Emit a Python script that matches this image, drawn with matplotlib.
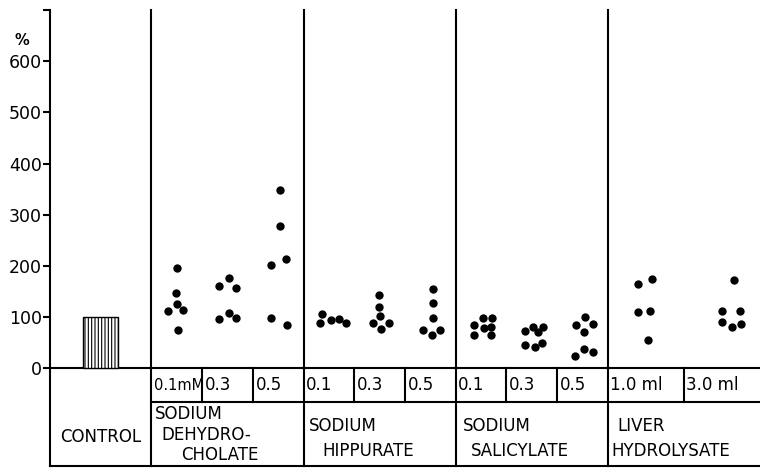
import numpy as np
import matplotlib
matplotlib.use('Agg')
import matplotlib.pyplot as plt

plt.rcParams['hatch.linewidth'] = 0.8

# values in % of control
control_value = 100

dehydro_01 = [195, 147, 125, 112, 114, 74]
dehydro_03 = [177, 160, 156, 96, 107, 99]
dehydro_05 = [349, 277, 214, 202, 99, 85]
hippur_01 = [106, 88, 94, 97, 88]
hippur_03 = [144, 119, 103, 88, 88, 77]
hippur_05 = [155, 127, 98, 74, 75, 64]
salic_01 = [98, 98, 84, 79, 81, 64, 64]
salic_03 = [81, 81, 72, 70, 45, 42, 49]
salic_05 = [101, 85, 87, 70, 38, 31, 23]
liver_10 = [164, 175, 110, 111, 56]
liver_30 = [172, 111, 112, 90, 81, 86]

# horizontal scatter of dots inside their column (column widths)
dx_dehydro_01 = [0.01, -0.02, 0.0, -0.165, 0.125, 0.02]
dx_dehydro_03 = [0.03, -0.16, 0.165, -0.16, 0.02, 0.175]
dx_dehydro_05 = [0.03, 0.04, 0.16, -0.15, -0.14, 0.17]
dx_hippur_01 = [-0.13, -0.18, 0.04, 0.2, 0.34]
dx_hippur_03 = [-0.01, -0.01, 0.01, -0.14, 0.185, 0.03]
dx_hippur_05 = [0.05, 0.045, 0.045, -0.145, 0.19, 0.04]
dx_salic_01 = [0.04, 0.21, -0.14, 0.06, 0.2, -0.13, 0.19]
dx_salic_03 = [0.03, 0.22, -0.13, 0.13, -0.13, 0.07, 0.2]
dx_salic_05 = [0.045, -0.12, 0.2, 0.03, 0.03, 0.2, -0.14]
dx_liver_10 = [-0.165, 0.12, -0.16, 0.09, 0.05]
dx_liver_30 = [0.23, 0.005, 0.36, 0.005, 0.2, 0.38]

dose_labels = ['0.1mM', '0.3', '0.5', '0.1', '0.3', '0.5',
               '0.1', '0.3', '0.5', '1.0 ml', '3.0 ml']
group_names = [['SODIUM', 'DEHYDRO-', 'CHOLATE'],
               ['SODIUM', 'HIPPURATE'],
               ['SODIUM', 'SALICYLATE'],
               ['LIVER', 'HYDROLYSATE']]
# indent of each line of the group names
name_indent = [[0.06, 0.2, 0.58], [0.11, 0.38], [0.14, 0.3], [0.18, 0.06]]
yticks = [0, 100, 200, 300, 400, 500, 600]

columns = [(dehydro_01, dx_dehydro_01), (dehydro_03, dx_dehydro_03),
           (dehydro_05, dx_dehydro_05), (hippur_01, dx_hippur_01),
           (hippur_03, dx_hippur_03), (hippur_05, dx_hippur_05),
           (salic_01, dx_salic_01), (salic_03, dx_salic_03),
           (salic_05, dx_salic_05), (liver_10, dx_liver_10),
           (liver_30, dx_liver_30)]

# column edges: control 0-2, then groups of 3 units
col_left = [2, 3, 4, 5, 6, 7, 8, 9, 10, 11, 12.5]
col_width = [1, 1, 1, 1, 1, 1, 1, 1, 1, 1.5, 1.5]
group_left = [2, 5, 8, 11]

fig = plt.figure(figsize=(7.6, 4.7), dpi=100)
ax = fig.add_axes([50 / 760, 4 / 470, 1 - 50 / 760, 456 / 470])
ax.set_xlim(0, 14)
ax.set_ylim(-191, 700)

lw = 1.5
ax.bar(1.0, control_value, width=0.685, color='white', edgecolor='black',
       hatch='|||||', linewidth=1.0, zorder=3)

for (vals, dx), left, w in zip(columns, col_left, col_width):
    xs = left + w / 2 + np.array(dx)
    ax.scatter(xs, vals, s=36, color='black', zorder=4, linewidths=0)

# frame lines and table
ax.axhline(0, color='black', lw=lw)
ax.plot([0, 14], [-191, -191], color='black', lw=lw, clip_on=False)
for g in group_left:
    ax.plot([g, g], [-191, 700], color='black', lw=lw, clip_on=False)
ax.plot([2, 14], [-66, -66], color='black', lw=lw)
for left in col_left[1:]:
    if left not in group_left:
        ax.plot([left, left], [0, -66], color='black', lw=lw)

for lab, left in zip(dose_labels, col_left):
    fs = 10.5 if lab.endswith('mM') else 12
    ax.text(left + 0.05, -33, lab, fontsize=fs, ha='left', va='center')

name_y = {3: [-90, -130, -170], 2: [-112, -162]}
for names, indent, left in zip(group_names, name_indent, group_left):
    ys = name_y[len(names)]
    for name, ind, y in zip(names, indent, ys):
        ax.text(left + ind, y, name, fontsize=12, ha='left', va='center')

ax.text(1.0, -135, 'CONTROL', fontsize=12, ha='center', va='center')
ax.text(-0.55, 640, '%', fontsize=10.5, ha='center', va='center',
        fontweight='bold')

ax.set_yticks(yticks + [700])
ax.set_yticklabels([str(t) for t in yticks] + [''])
ax.tick_params(axis='y', direction='out', length=5, width=lw,
               labelsize=12.5, pad=1)
ax.set_xticks([])
for side in ['top', 'right', 'bottom']:
    ax.spines[side].set_visible(False)
ax.spines['left'].set_linewidth(lw)

fig.savefig('out.png', dpi=100)
